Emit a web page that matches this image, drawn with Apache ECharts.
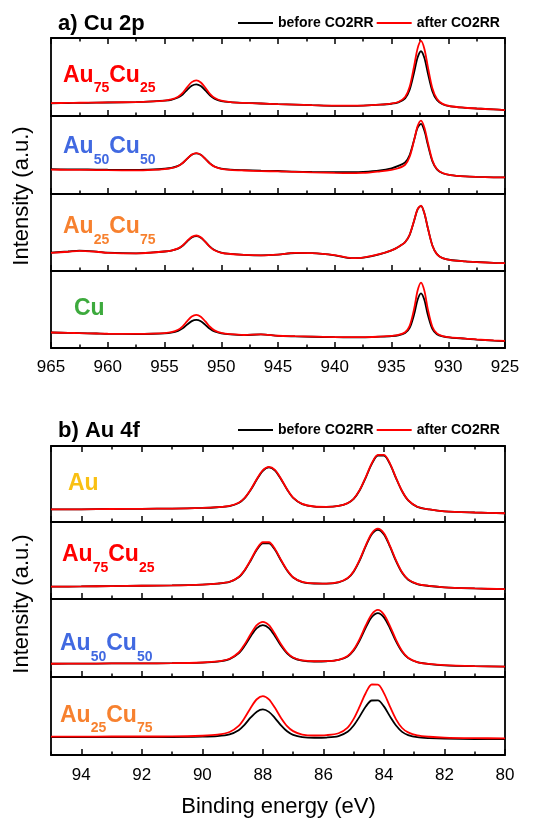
<!DOCTYPE html>
<html><head><meta charset="utf-8">
<script src="https://cdn.jsdelivr.net/npm/echarts@6/dist/echarts.min.js"></script>
<style>html,body{margin:0;padding:0;background:#fff}#c{width:533px;height:822px}</style>
</head><body><div id="c"></div>
<script>
// ---------- DATA ----------
const cuEnergy = [965, 963.5, 962.5, 961, 960, 957.5, 956, 955, 954.4, 953.8, 953.4, 953.0, 952.6, 952.2, 951.8, 951.4, 951.0, 950.6, 950.0, 949.2, 948, 946.5, 945, 943.5, 942, 940, 938.5, 937.5, 936, 935, 934.4, 933.8, 933.4, 933.0, 932.7, 932.4, 932.1, 931.8, 931.4, 931.0, 930.5, 929.8, 928.5, 927.5, 926, 925];
const cuTickLabels = [965, 960, 955, 950, 945, 940, 935, 930, 925];
const cuSamples = ['Au75Cu25', 'Au50Cu50', 'Au25Cu75', 'Cu'];

const cuAu75Before = [16.3, 16.6, 16.8, 17.1, 17.3, 17.8, 18.7, 19.6, 20.7, 23.7, 27.6, 33.6, 38.8, 40.6, 38.4, 32.8, 26.5, 22.3, 19.1, 17.7, 16.8, 16, 15.2, 14.6, 13.9, 13.1, 13.1, 13.4, 14.5, 15.7, 17.4, 22.7, 33.7, 56.5, 75, 83, 74.3, 55.2, 31.9, 20.5, 15.1, 12.4, 10.5, 9.6, 8.4, 7.6];
const cuAu75After = [16.5, 16.8, 17, 17.2, 17.4, 17.9, 18.8, 19.8, 21.2, 24.8, 29.6, 37, 43.4, 45.7, 43, 36.2, 28.5, 23.4, 19.6, 17.9, 16.8, 16, 15.3, 14.7, 14, 13.2, 13.2, 13.4, 14.6, 16, 18, 24.3, 37.4, 64.6, 86.7, 96.3, 86, 63.3, 35.6, 22.1, 15.5, 12.5, 10.6, 9.6, 8.4, 7.6];
const cuAu50Before = [31.8, 31.6, 31.5, 31.3, 31.1, 30.9, 31.5, 32.4, 33.4, 36, 39.7, 45.3, 50.4, 52.2, 50.2, 45, 39.2, 35.3, 32.5, 31.3, 30.6, 29.9, 29.5, 28.6, 28.2, 28, 28, 28.3, 30.2, 33, 36, 40.5, 50, 69.8, 85, 90, 81, 63.3, 42, 31.5, 26.6, 24.2, 22.5, 21.9, 21.4, 21.3];
const cuAu50After = [31.2, 31, 30.9, 30.7, 30.5, 30.3, 31, 32, 33.1, 35.9, 39.7, 45.4, 50.5, 52.3, 50.3, 45, 39.1, 35.1, 32.2, 30.9, 30.1, 29.4, 29, 28.4, 27.7, 27, 26.8, 27, 29.1, 31, 33, 37.5, 47.8, 69.4, 87, 94, 85, 66.1, 43.3, 32, 26.9, 24.3, 22.5, 21.9, 21.4, 21.3];
const cuAu25Before = [23.9, 25.3, 26.4, 25.2, 23.8, 23, 24.1, 25.3, 26.5, 29.1, 32.7, 38.4, 43.5, 45.4, 43.3, 37.8, 31.6, 27.3, 24, 22.3, 21, 20.3, 21.2, 23.4, 23.1, 20.4, 16.8, 17.4, 22, 26.8, 31.2, 37.5, 47, 65.6, 80, 84.6, 74.8, 55.9, 33.2, 22, 16.8, 14.3, 12.6, 11.7, 10.6, 10.2];
const cuAu25After = [23.6, 25, 26.2, 25, 23.6, 22.8, 24, 25.3, 26.6, 29.4, 33.2, 39.1, 44.3, 46.1, 43.7, 37.9, 31.4, 27, 23.7, 22.1, 20.9, 20.3, 21.3, 23.5, 23.2, 20.5, 16.8, 17.4, 22.1, 26.9, 31.3, 37.6, 47.1, 65.9, 80.4, 85, 74.9, 55.9, 33.1, 21.9, 16.7, 14.2, 12.5, 11.6, 10.5, 10.1];
const cuCuBefore = [20.1, 19.6, 19.3, 18.8, 18.4, 18.2, 18.5, 19, 19.9, 22.2, 25.5, 30.5, 34.9, 36.5, 34.7, 30.1, 24.9, 21.4, 18.9, 17.6, 16.8, 17.6, 15.8, 15.1, 14.6, 14, 13.8, 13.8, 14.7, 15.5, 16.5, 19.4, 26, 44, 62.7, 71, 62.3, 43.2, 24.8, 17.8, 15, 13.5, 12.2, 11, 9.7, 9.1];
const cuCuAfter = [20.1, 19.6, 19.3, 18.8, 18.5, 18.3, 18.6, 19.3, 20.5, 23.7, 28.2, 34.9, 40.9, 43.1, 40.7, 34.5, 27.6, 22.9, 19.5, 17.9, 16.9, 17.8, 15.9, 15.3, 14.8, 14.2, 14, 14, 14.8, 15.7, 16.9, 20.5, 28.8, 51.3, 74.6, 85, 74.2, 50.5, 27.6, 18.9, 15.5, 13.7, 12.3, 11.1, 9.8, 9.2];

const auEnergy = [95, 94, 93, 92, 91, 90, 89.5, 89.1, 88.8, 88.6, 88.4, 88.2, 88.0, 87.8, 87.6, 87.4, 87.2, 87.0, 86.7, 86.3, 85.9, 85.5, 85.2, 85.0, 84.8, 84.6, 84.4, 84.2, 84.0, 83.8, 83.6, 83.4, 83.2, 82.9, 82.5, 82, 81, 80];
const auTickLabels = [94, 92, 90, 88, 86, 84, 82, 80];
const auSamples = ['Au', 'Au75Cu25', 'Au50Cu50', 'Au25Cu75'];

const auAuBefore = [16.5, 16.7, 17.1, 17.4, 17.7, 18.5, 19.4, 21, 25, 31.4, 42.3, 55.9, 67.4, 71.8, 67.7, 56.3, 42.7, 31.8, 23.6, 20.3, 19.9, 21.1, 24.7, 30.3, 41.7, 58.4, 76.5, 87.5, 87.4, 76.1, 57.6, 40.4, 28.5, 20, 16.6, 14.1, 12.5, 11.5];
const auAuAfter = [16.5, 16.7, 17.1, 17.4, 17.7, 18.5, 19.5, 21.2, 25.3, 31.9, 42.9, 56.6, 68.2, 72.6, 68.5, 56.9, 43.1, 32.1, 23.8, 20.4, 20, 21.2, 24.9, 30.6, 42.2, 59.1, 77.4, 88.4, 88.3, 76.9, 58.2, 40.8, 28.7, 20.1, 16.6, 14.1, 12.5, 11.5];
const auAu75Before = [16, 16.3, 16.8, 17.2, 17.6, 18.6, 19.9, 22.2, 28.2, 37.2, 50, 64, 72.4, 72.4, 63.9, 49.9, 37, 27.9, 22, 20.1, 19.9, 21.6, 26.8, 35.5, 50.1, 68.6, 84.1, 89.9, 83.9, 67.9, 49.2, 34, 25.1, 19.4, 16.9, 15.1, 13.7, 12.7];
const auAu75After = [16, 16.3, 16.8, 17.2, 17.6, 18.7, 20, 22.4, 28.6, 37.8, 50.9, 65.1, 73.7, 73.7, 65, 50.8, 37.6, 28.3, 22.2, 20.2, 20, 21.8, 27.2, 36.1, 51, 69.8, 85.5, 91.4, 85.3, 69.1, 50.1, 34.6, 25.5, 19.6, 17, 15.2, 13.8, 12.8];
const auAu50Before = [17, 17.1, 17.4, 17.5, 17.7, 18.5, 19.7, 23, 30.3, 40.1, 52.4, 62.7, 66.6, 62.7, 52.4, 40.1, 30.3, 24.5, 21, 19.9, 20.2, 21.8, 26.4, 34, 47, 63.2, 76.9, 82, 76.5, 62.5, 45.7, 32.3, 24.2, 19, 16.6, 15, 13.9, 13.3];
const auAu50After = [17, 17.1, 17.4, 17.5, 17.7, 18.6, 19.9, 23.4, 31.4, 42, 55.2, 66.4, 70.6, 66.4, 55.2, 42, 31.4, 25, 21.2, 20.2, 20.3, 22, 26.9, 35.1, 48.9, 66, 80.5, 86, 80.1, 65.3, 47.6, 33.4, 24.7, 19.2, 16.7, 15.1, 13.9, 13.3];
const auAu25Before = [23, 23, 23, 23, 23, 23.5, 24.3, 26.5, 31.8, 39, 48.1, 55.6, 58.5, 55.3, 47.4, 38, 30.4, 25.8, 23, 22.1, 22.4, 24.2, 29.7, 37.8, 49.5, 62.2, 69.9, 70, 62.3, 49.5, 37.8, 29.7, 25.6, 22.8, 21.6, 20.9, 20.5, 20.4];
const auAu25After = [23.5, 23.5, 23.7, 23.7, 23.8, 24.7, 26, 29.5, 37.3, 47.7, 60.6, 71.5, 75.6, 71.4, 60.5, 47.5, 37, 30.6, 26.2, 25, 25.5, 27.9, 35.2, 46.3, 62.3, 79.5, 90.4, 90.3, 79.3, 61.9, 45.7, 34.6, 29, 25.2, 23.4, 22.3, 21.6, 21.3];

const seriesNames = ['before CO2RR', 'after CO2RR'];

// ---------- LAYOUT / STYLE ----------
const FONT = 'Arial, "Liberation Sans", sans-serif';
const LEFT = 51, WIDTH = 454;
const cuTops = [38, 116, 194, 271], cuHeights = [78, 78, 77, 77];
const auTops = [446, 522, 599, 677], auHeights = [76, 77, 78, 78];
const cuColors = ['#FF0000', '#4169E1', '#F7812F', '#3DAA3D'];
const auColors = ['#F9C013', '#FF0000', '#4169E1', '#F7812F'];
const cuLabelPos = [[63, 83.3], [63, 155], [63, 235], [74, 316.7]];   // [left, baseline]
const auLabelPos = [[68, 491.5], [62, 562.7], [60, 651.7], [60, 723.3]];
const lineColors = ['#000000', '#FF0000'];

const panels = [
  { energy: cuEnergy, ticks: cuTickLabels, min: 925, max: 965, major: 5, minor: 2.5,
    tops: cuTops, heights: cuHeights, samples: cuSamples, colors: cuColors, labelPos: cuLabelPos,
    data: [[cuAu75Before, cuAu75After], [cuAu50Before, cuAu50After], [cuAu25Before, cuAu25After], [cuCuBefore, cuCuAfter]],
    labelMargin: 11 },
  { energy: auEnergy, ticks: auTickLabels, min: 80, max: 95, major: 2, minor: 1,
    tops: auTops, heights: auHeights, samples: auSamples, colors: auColors, labelPos: auLabelPos,
    data: [[auAuBefore, auAuAfter], [auAu75Before, auAu75After], [auAu50Before, auAu50After], [auAu25Before, auAu25After]],
    labelMargin: 12 }
];

const grids = [], xAxes = [], yAxes = [], series = [], graphics = [];
const mctx = document.createElement('canvas').getContext('2d');

function sampleLabel(name, x0, baseline, color) {
  let x = x0;
  const re = /([A-Za-z]+)(\d*)/g;
  let m;
  while ((m = re.exec(name)) !== null) {
    const fMain = 'bold 23px ' + FONT;
    mctx.font = fMain;
    graphics.push({ type: 'text', x: x, y: baseline - 8, silent: true,
      style: { text: m[1], font: fMain, fill: color, align: 'left', verticalAlign: 'middle', textAlign: 'left', textVerticalAlign: 'middle' } });
    x += mctx.measureText(m[1]).width;
    if (m[2]) {
      const fSub = 'bold 14px ' + FONT;
      mctx.font = fSub;
      graphics.push({ type: 'text', x: x, y: baseline + 5, silent: true,
        style: { text: m[2], font: fSub, fill: color, align: 'left', verticalAlign: 'middle', textAlign: 'left', textVerticalAlign: 'middle' } });
      x += mctx.measureText(m[2]).width;
    }
  }
}

function mkX(gi, p, interval, len, pos, showLabels) {
  return {
    type: 'value', gridIndex: gi, min: p.min, max: p.max, inverse: true, interval: interval,
    position: pos, axisLine: { show: false }, splitLine: { show: false },
    axisTick: { show: true, inside: true, length: len, lineStyle: { color: '#000', width: 1.5 } },
    axisLabel: {
      show: showLabels, margin: p.labelMargin, color: '#000', fontSize: 17, fontFamily: FONT,
      showMaxLabel: p.ticks.indexOf(p.max) >= 0, showMinLabel: true,
      formatter: v => (p.ticks.indexOf(v) >= 0 ? String(v) : '')
    }
  };
}

panels.forEach((p, pi) => {
  p.tops.forEach((top, k) => {
    const gi = grids.length;
    grids.push({ left: LEFT, width: WIDTH, top: top, height: p.heights[k], show: true,
      borderColor: '#000', borderWidth: 1.8, backgroundColor: 'transparent', containLabel: false, outerBoundsMode: 'none' });
    const last = k === p.tops.length - 1;
    const xi = xAxes.length;
    xAxes.push(mkX(gi, p, p.major, 6, 'bottom', last));
    xAxes.push(mkX(gi, p, p.minor, 3.5, 'bottom', false));
    if (k === 0) {
      xAxes.push(mkX(gi, p, p.major, 6, 'top', false));
      xAxes.push(mkX(gi, p, p.minor, 3.5, 'top', false));
    }
    yAxes.push({ type: 'value', gridIndex: gi, min: 0, max: 100, show: false });
    p.data[k].forEach((vals, s) => {
      series.push({
        type: 'line', name: seriesNames[s], xAxisIndex: xi, yAxisIndex: gi,
        data: p.energy.map((e, i) => [e, vals[i]]),
        symbol: 'none', showSymbol: false, smooth: 0.3, silent: true, z: 2 + s,
        lineStyle: { color: lineColors[s], width: 1.8 }, itemStyle: { color: lineColors[s] }
      });
    });
    sampleLabel(p.samples[k], p.labelPos[k][0], p.labelPos[k][1], p.colors[k]);
  });
});

const titles = [
  { text: 'a) Cu 2p', left: 58, top: 13, padding: 0,
    textStyle: { fontSize: 22, fontWeight: 'bold', fontFamily: FONT, color: '#000', lineHeight: 22 } },
  { text: 'b) Au 4f', left: 58, top: 419.7, padding: 0,
    textStyle: { fontSize: 22, fontWeight: 'bold', fontFamily: FONT, color: '#000', lineHeight: 22 } }
];

const legendBase = {
  data: seriesNames, left: 238, icon: 'rect', itemWidth: 35, itemHeight: 2, itemGap: 3, padding: 0,
  itemStyle: { borderWidth: 0 },
  selectedMode: false, textStyle: { fontSize: 14, fontWeight: 'bold', color: '#000', fontFamily: FONT }
};

graphics.push(
  { type: 'text', x: 22, y: 196, rotation: Math.PI / 2, silent: true,
    style: { text: 'Intensity (a.u.)', font: '22px ' + FONT, fill: '#000', align: 'center', verticalAlign: 'middle', textAlign: 'center', textVerticalAlign: 'middle' } },
  { type: 'text', x: 22, y: 604, rotation: Math.PI / 2, silent: true,
    style: { text: 'Intensity (a.u.)', font: '22px ' + FONT, fill: '#000', align: 'center', verticalAlign: 'middle', textAlign: 'center', textVerticalAlign: 'middle' } },
  { type: 'text', x: 278.5, y: 807, silent: true,
    style: { text: 'Binding energy (eV)', font: '22px ' + FONT, fill: '#000', align: 'center', verticalAlign: 'middle', textAlign: 'center', textVerticalAlign: 'middle' } }
);

const chart = echarts.init(document.getElementById('c'), null, { renderer: 'canvas' });
chart.setOption({
  animation: false,
  backgroundColor: '#fff',
  title: titles,
  legend: [Object.assign({}, legendBase, { top: 16 }), Object.assign({}, legendBase, { top: 423 })],
  grid: grids, xAxis: xAxes, yAxis: yAxes, series: series,
  graphic: graphics
});
</script></body></html>
